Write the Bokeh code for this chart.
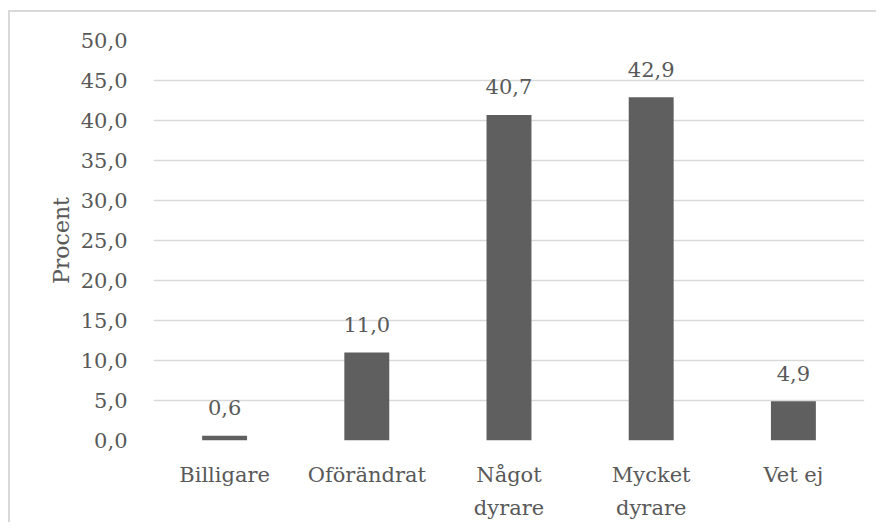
from bokeh.plotting import figure
from bokeh.models import ColumnDataSource, FactorRange, Range1d, FixedTicker, CustomJSTickFormatter, CategoricalAxis
from bokeh.core.properties import value
from bokeh.embed import file_html
from bokeh.resources import INLINE

categories = ["Billigare", "Oförändrat", "Något dyrare", "Mycket dyrare", "Vet ej"]
label_line1 = ["Billigare", "Oförändrat", "Något", "Mycket", "Vet ej"]
label_line2 = ["", "", "dyrare", "dyrare", ""]
values = [0.6, 11.0, 40.7, 42.9, 4.9]
y_ticks = [0, 5, 10, 15, 20, 25, 30, 35, 40, 45, 50]
y_label = "Procent"

FONT = "DejaVu Serif"
TXT = "#595959"
FS = "21px"

value_labels = [f"{v:.1f}".replace(".", ",") for v in values]
src = ColumnDataSource(dict(cat=categories, val=values, lab=value_labels))

p = figure(
    frame_width=711, frame_height=400,
    x_range=FactorRange(*categories),
    y_range=Range1d(0, 50),
    output_backend="svg", toolbar_location=None,
    min_border_left=143, min_border_right=12, min_border_top=28, min_border_bottom=80,
)
p.styles = {"margin-left": "8px", "margin-top": "10px",
            "border-left": "2px solid #d9d9d9", "border-top": "2px solid #d9d9d9"}
p.outline_line_color = None
p.background_fill_color = "white"
p.border_fill_color = "white"

p.vbar(x="cat", top="val", width=0.316, source=src, fill_color="#5f5f5f", line_color=None)
p.text(x="cat", y="val", text="lab", source=src, text_align="center", text_baseline="alphabetic",
       y_offset=-28, text_font=value(FONT), text_font_size=FS, text_color=TXT)

xaxis2 = CategoricalAxis()
p.add_layout(xaxis2, "below")

p.yaxis.ticker = FixedTicker(ticks=y_ticks)
p.yaxis.formatter = CustomJSTickFormatter(code="return tick.toFixed(1).replace('.', ',');")
p.yaxis.axis_label = y_label
for ax in (p.xaxis[0], xaxis2, p.yaxis[0]):
    ax.axis_line_color = None
    ax.major_tick_line_color = None
    ax.minor_tick_line_color = None
    ax.major_label_text_font = FONT
    ax.major_label_text_font_size = FS
    ax.major_label_text_color = TXT

code = "const i = names.indexOf(tick); const s = lines[i]; return s ? s : ' ';"
p.xaxis[0].formatter = CustomJSTickFormatter(args=dict(names=categories, lines=label_line1), code=code)
xaxis2.formatter = CustomJSTickFormatter(args=dict(names=categories, lines=label_line2), code=code)
p.xaxis[0].major_label_standoff = 16
xaxis2.major_label_standoff = 0

p.yaxis.axis_label_text_font = FONT
p.yaxis.axis_label_text_font_size = "22px"
p.yaxis.axis_label_text_font_style = "normal"
p.yaxis.axis_label_text_color = TXT
p.yaxis.major_label_standoff = 20
p.yaxis.axis_label_standoff = 4

p.xgrid.grid_line_color = None
p.ygrid.grid_line_color = "#d9d9d9"
p.ygrid.grid_line_width = 1.4

open("out.html", "w").write(file_html(p, INLINE))
